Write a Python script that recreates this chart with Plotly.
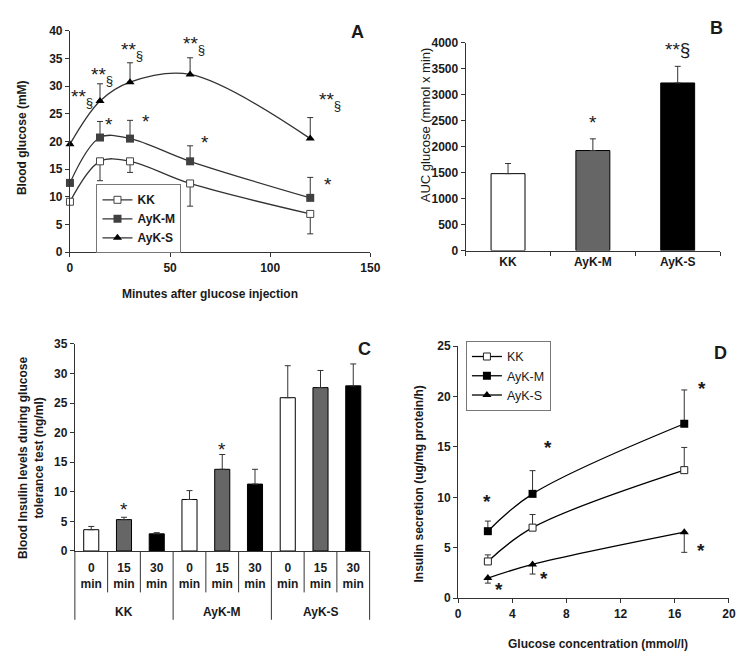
import plotly.graph_objects as go

# ---------------- data ----------------
# Panel A: blood glucose during GTT
time_min = [0, 15, 30, 60, 120]
glu_kk = [9.1, 16.4, 16.4, 12.4, 6.9]
glu_kk_err = [0, 3.5, 2.0, 4.1, 3.6]          # shown downward
glu_aykm = [12.5, 20.7, 20.5, 16.4, 9.8]
glu_aykm_err = [0, 2.9, 3.3, 2.8, 3.7]        # shown upward
glu_ayks = [19.5, 27.3, 30.7, 32.1, 20.5]
glu_ayks_err = [0, 3.1, 3.5, 3.0, 3.8]        # shown upward

# Panel B: AUC glucose
groups = ["KK", "AyK-M", "AyK-S"]
auc = [1480, 1925, 3225]
auc_err = [195, 225, 320]

# Panel C: blood insulin during GTT
times_c = ["0", "15", "30"]
ins_kk = [3.6, 5.3, 2.9]
ins_kk_err = [0.55, 0.4, 0.2]
ins_aykm = [8.7, 13.8, 11.3]
ins_aykm_err = [1.5, 2.5, 2.5]
ins_ayks = [25.9, 27.6, 27.9]
ins_ayks_err = [5.4, 2.9, 3.7]

# Panel D: insulin secretion vs glucose concentration
glucose_conc = [2.2, 5.5, 16.7]
sec_kk = [3.65, 7.0, 12.7]
sec_kk_err = [0.65, 1.3, 2.25]      # upward
sec_aykm = [6.65, 10.35, 17.3]
sec_aykm_err = [1.0, 2.3, 3.35]     # upward
sec_ayks = [2.0, 3.35, 6.55]
sec_ayks_err = [0.5, 0.95, 2.0]     # downward

# significance marks: (x, y, text)
sig_a = [(6.1, 28.7, "**<sub>§</sub>"), (16.1, 32.8, "**<sub>§</sub>"),
         (30.8, 37.2, "**<sub>§</sub>"), (61.8, 38.4, "**<sub>§</sub>"),
         (130, 28.2, "**<sub>§</sub>"),
         (19.3, 24.0, "*"), (38.0, 24.5, "*"), (67.2, 20.7, "*"), (129, 13.2, "*")]
sig_b = [("AyK-M", 2556, "*"), ("AyK-S", 3968, "**§")]
sig_c = [("KK 15", 7.9, "*"), ("AyK-M 15", 18.0, "*")]
sig_d = [(2.16, 10.06, "*"), (6.63, 15.4, "*"), (3.04, 1.33, "*"),
         (6.35, 2.46, "*"), (18.0, 21.3, "*"), (17.9, 5.27, "*")]

# ---------------- styling ----------------
FONT = "Liberation Sans"
INK = "#1a1a1a"
AX = "#333333"
W, H = 745, 655


def px_x(p):
    return p / W


def px_y(p):
    return 1 - p / H


tickfont = dict(family=FONT, size=12, color=INK, weight="bold")
err_style = dict(color=AX, thickness=1, width=3)

fig = go.Figure()

# ---- Panel A ----
fig.add_trace(go.Scatter(
    x=time_min, y=glu_kk, name="KK", mode="lines+markers", line_shape="spline",
    line=dict(color=AX, width=1.3),
    marker=dict(symbol="square", size=7, color="white", line=dict(color="#444", width=1)),
    error_y=dict(type="data", symmetric=False, array=[0] * len(glu_kk), arrayminus=glu_kk_err, **err_style),
    xaxis="x", yaxis="y", legend="legend", cliponaxis=False))
fig.add_trace(go.Scatter(
    x=time_min, y=glu_aykm, name="AyK-M", mode="lines+markers", line_shape="spline",
    line=dict(color=AX, width=1.3),
    marker=dict(symbol="square", size=8, color="#404040"),
    error_y=dict(type="data", symmetric=False, array=glu_aykm_err, arrayminus=[0] * len(glu_aykm), **err_style),
    xaxis="x", yaxis="y", legend="legend", cliponaxis=False))
fig.add_trace(go.Scatter(
    x=time_min, y=glu_ayks, name="AyK-S", mode="lines+markers", line_shape="spline",
    line=dict(color=AX, width=1.3),
    marker=dict(symbol="triangle-up", size=8, color="black"),
    error_y=dict(type="data", symmetric=False, array=glu_ayks_err, arrayminus=[0] * len(glu_ayks), **err_style),
    xaxis="x", yaxis="y", legend="legend", cliponaxis=False))

# ---- Panel B ----
fig.add_trace(go.Bar(
    x=groups, y=auc, width=0.4, showlegend=False,
    marker=dict(color=["white", "#666666", "black"], line=dict(color="black", width=1)),
    error_y=dict(type="data", symmetric=False, array=auc_err, arrayminus=[0] * len(auc), **err_style),
    xaxis="x2", yaxis="y2"))

# ---- Panel C ----
x_c = [f"{g} {t}" for g in groups for t in times_c]
y_c = ins_kk + ins_aykm + ins_ayks
e_c = ins_kk_err + ins_aykm_err + ins_ayks_err
time_colors = ["white", "#666666", "black"]
fig.add_trace(go.Bar(
    x=x_c, y=y_c, width=0.46, showlegend=False,
    marker=dict(color=time_colors * len(groups), line=dict(color="black", width=1)),
    error_y=dict(type="data", symmetric=False, array=e_c, arrayminus=[0] * len(e_c), **err_style),
    xaxis="x3", yaxis="y3"))

# ---- Panel D ----
fig.add_trace(go.Scatter(
    x=glucose_conc, y=sec_kk, name="KK", mode="lines+markers", line_shape="spline",
    line=dict(color="black", width=1.3),
    marker=dict(symbol="square", size=7, color="white", line=dict(color="#222", width=1)),
    error_y=dict(type="data", symmetric=False, array=sec_kk_err, arrayminus=[0] * 3, **err_style),
    xaxis="x4", yaxis="y4", legend="legend2", cliponaxis=False))
fig.add_trace(go.Scatter(
    x=glucose_conc, y=sec_aykm, name="AyK-M", mode="lines+markers", line_shape="spline",
    line=dict(color="black", width=1.3),
    marker=dict(symbol="square", size=8, color="black"),
    error_y=dict(type="data", symmetric=False, array=sec_aykm_err, arrayminus=[0] * 3, **err_style),
    xaxis="x4", yaxis="y4", legend="legend2", cliponaxis=False))
fig.add_trace(go.Scatter(
    x=glucose_conc, y=sec_ayks, name="AyK-S", mode="lines+markers", line_shape="spline",
    line=dict(color="black", width=1.3),
    marker=dict(symbol="triangle-up", size=8, color="black"),
    error_y=dict(type="data", symmetric=False, array=[0] * 3, arrayminus=sec_ayks_err, **err_style),
    xaxis="x4", yaxis="y4", legend="legend2", cliponaxis=False))

axis_common = dict(showline=True, linecolor=AX, linewidth=1, showgrid=False, zeroline=False,
                   ticks="outside", ticklen=4, tickcolor=AX, tickfont=tickfont)

annotations = []
star_font = dict(family=FONT, size=19, color=INK)
for x, y, t in sig_a:
    annotations.append(dict(x=x, y=y, xref="x", yref="y", text=t, showarrow=False, font=star_font,
                            xanchor="center", yanchor="middle", yshift=-5))
for x, y, t in sig_b:
    annotations.append(dict(x=x, y=y, xref="x2", yref="y2", text=t, showarrow=False,
                            font=dict(family=FONT, size=19, color=INK), xanchor="center",
                            yanchor="middle", yshift=-5))
for x, y, t in sig_c:
    annotations.append(dict(x=x, y=y, xref="x3", yref="y3", text=t, showarrow=False, font=star_font,
                            xanchor="center", yanchor="middle", yshift=-5))
for x, y, t in sig_d:
    annotations.append(dict(x=x, y=y, xref="x4", yref="y4", text=t, showarrow=False,
                            font=dict(family=FONT, size=19, color=INK, weight="bold"),
                            xanchor="center", yanchor="middle", yshift=-5))

title_font = dict(family=FONT, size=12, color=INK, weight="bold")


def paper_text(px, py, text, font, angle=0):
    return dict(x=px_x(px), y=px_y(py), xref="paper", yref="paper", text=text, textangle=angle,
                showarrow=False, font=font, xanchor="center", yanchor="middle")


# axis titles
annotations += [
    paper_text(12, 125, "Blood glucose (mM)", title_font, -90),
    paper_text(203, 285, "Minutes after glucose injection", title_font),
    paper_text(422, 112, "AUC glucose (mmol x min)", dict(family=FONT, size=13, color=INK), -90),
    paper_text(21, 453, "Blood Insulin levels during glucose<br>tolerance test (ng/ml)", title_font, -90),
    paper_text(415, 479, "Insulin secretion (ug/mg protein/h)", title_font, -90),
    paper_text(597, 643, "Glucose concentration (mmol/l)", title_font),
]
# panel letters
panel_font = dict(family=FONT, size=18, color=INK, weight="bold")
for letter, (lx, ly) in {"A": (353, 17), "B": (718, 13), "C": (360, 341), "D": (722, 345)}.items():
    annotations.append(paper_text(lx, ly, letter, panel_font))
# group labels for panel C
n_t = len(times_c)
for gi, g in enumerate(groups):
    annotations.append(dict(x=gi * n_t + (n_t - 1) / 2, y=px_y(610), xref="x3", yref="paper", text=g,
                            showarrow=False, font=tickfont, xanchor="center", yanchor="middle"))

# separators for panel C category axis
n_c = len(x_c)
shapes = []
for k in range(n_c + 1):
    is_group = (k % n_t == 0)
    shapes.append(dict(type="line", xref="x3 domain", yref="paper", x0=k / n_c, x1=k / n_c,
                       y0=px_y(547.7), y1=px_y(618 if is_group else 590),
                       line=dict(color=AX, width=1)))

fig.update_layout(
    width=W, height=H, autosize=False, margin=dict(l=0, r=0, t=0, b=0),
    paper_bgcolor="white", plot_bgcolor="white",
    font=dict(family=FONT, color=INK),
    xaxis=dict(domain=[px_x(60), px_x(365.7)], anchor="y", range=[0, 150], dtick=50, **axis_common),
    yaxis=dict(domain=[px_y(242.3), px_y(16)], anchor="x", range=[0, 40], dtick=5, **axis_common),
    xaxis2=dict(domain=[px_x(462.7), px_x(721.7)], anchor="y2", type="category", tickson="boundaries",
                range=[-0.5, 2.5], **axis_common),
    yaxis2=dict(domain=[px_y(240.7), px_y(28.3)], anchor="x2", range=[0, 4000], dtick=500, **axis_common),
    xaxis3=dict(domain=[px_x(65), px_x(365)], anchor="y3", type="category", range=[-0.5, n_c - 0.5],
                showline=True, linecolor=AX, linewidth=1, showgrid=False, zeroline=False, ticks="",
                tickvals=x_c, ticktext=[f"{t}<br>min" for g in groups for t in times_c],
                tickfont=tickfont, ticklabelstandoff=6),
    yaxis3=dict(domain=[px_y(547.7), px_y(336)], anchor="x3", range=[0, 35], dtick=5, **axis_common),
    xaxis4=dict(domain=[px_x(455), px_x(730.7)], anchor="y4", range=[0, 20], dtick=4, **axis_common),
    yaxis4=dict(domain=[px_y(596), px_y(338.3)], anchor="x4", range=[0, 25], dtick=5, **axis_common),
    legend=dict(x=px_x(87), y=px_y(173), xanchor="left", yanchor="top", bgcolor="white",
                bordercolor="#777", borderwidth=1, font=dict(family=FONT, size=12, color=INK, weight="bold"),
                tracegroupgap=0),
    legend2=dict(x=px_x(463), y=px_y(333), xanchor="left", yanchor="top", bgcolor="white",
                 bordercolor="#777", borderwidth=1, font=dict(family=FONT, size=12.5, color=INK),
                 tracegroupgap=0),
    annotations=annotations,
    shapes=shapes,
)

fig.write_html("out.html")
